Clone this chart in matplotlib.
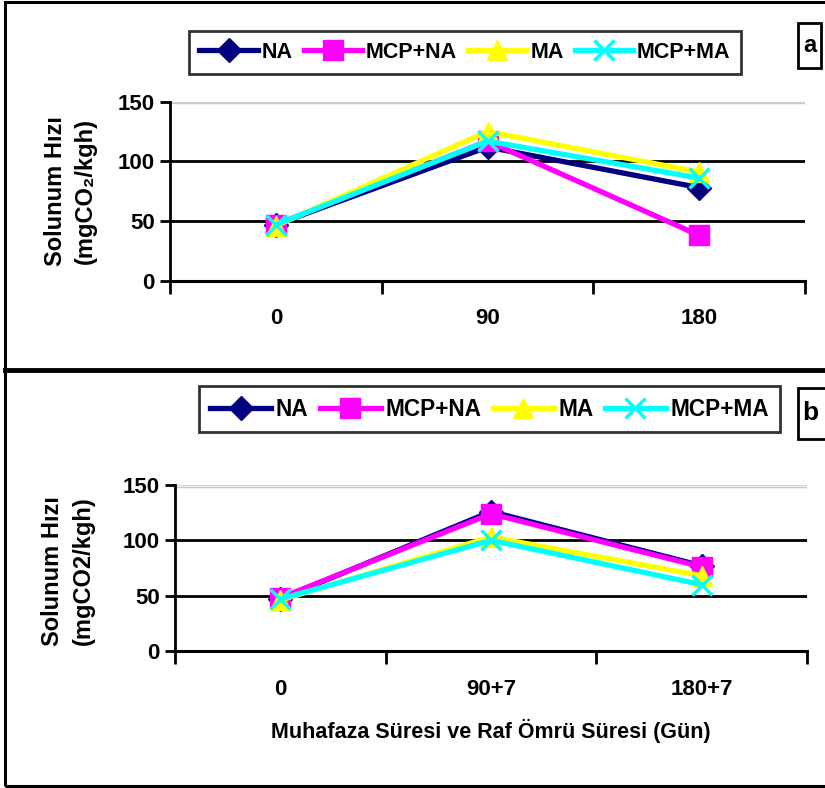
import matplotlib
matplotlib.use("Agg")
import matplotlib.pyplot as plt
from matplotlib.lines import Line2D
from matplotlib.patches import Rectangle

plt.rcParams['font.family'] = ['Liberation Sans', 'DejaVu Sans']
plt.rcParams['font.weight'] = 'bold'

# series names and colours
series = ['NA', 'MCP+NA', 'MA', 'MCP+MA']
colors = ['#000080', '#FF00FF', '#FFFF00', '#00FFFF']
markers = ['D', 's', '^', 'x']
msizes = [12, 14.5, 15, 15]

# panel a: storage time (days)
labels_a = ['0', '90', '180']
na_a = [47, 112, 78]
mcp_na_a = [47, 117, 38]
ma_a = [46, 125, 91]
mcp_ma_a = [47, 117, 86]

# panel b: storage + shelf life (days)
labels_b = ['0', '90+7', '180+7']
na_b = [47, 126, 77]
mcp_na_b = [48, 124, 76]
ma_b = [46, 103, 68]
mcp_ma_b = [47, 100, 60]

W, H = 825, 788
fig = plt.figure(figsize=(W / 100, H / 100), dpi=100)


def fx(px):
    return px / W


def fy(py):
    return 1 - py / H


def panel(rect, labels, data):
    ax = fig.add_axes(rect)
    pos = [0.5, 1.5, 2.5]
    for vals, c, m, ms, name in zip(data, colors, markers, msizes, series):
        ax.plot(pos, vals, color=c, lw=3.8, marker=m, markersize=ms,
                markeredgewidth=2.5 if m == 'x' else 1, markeredgecolor=c,
                label=name, clip_on=False, zorder=3)
    ax.set_xlim(0, 3)
    ax.set_ylim(0, 150)
    ax.set_yticks([0, 50, 100, 150])
    ax.set_xticks([0, 1, 2, 3])
    ax.set_xticklabels([])
    ax.set_xticks(pos, minor=True)
    ax.set_xticklabels(labels, minor=True)
    ax.tick_params(axis='x', which='minor', length=0, pad=20, labelsize=16)
    ax.tick_params(axis='x', which='major', length=9, width=2, direction='out')
    ax.tick_params(axis='y', length=7, width=2, labelsize=16, pad=4)
    for t in ax.get_yticklabels() + ax.get_xticklabels(minor=True):
        t.set_fontweight('bold')
    for v in [50, 100]:
        ax.axhline(v, color='black', lw=2, zorder=1)
    ax.axhline(150, color='#c8c8c8', lw=1.2, zorder=1)
    ax.axhline(148.5, color='#c8c8c8', lw=1.0, zorder=1)
    for s in ['top', 'right']:
        ax.spines[s].set_visible(False)
    ax.spines['left'].set_linewidth(2)
    ax.spines['bottom'].set_linewidth(2.2)
    return ax


ax_a = panel([fx(170), fy(280.7), fx(805 - 170), (280.7 - 101.7) / H],
             labels_a, [na_a, mcp_na_a, ma_a, mcp_ma_a])
ax_b = panel([fx(175), fy(651), fx(807 - 175), (651 - 485) / H],
             labels_b, [na_b, mcp_na_b, ma_b, mcp_ma_b])

# y axis titles
ylab_kw = dict(rotation=90, ha='center', va='center', fontsize=17, fontweight='bold')
fig.text(fx(56), fy(191), 'Solunum Hızı', **ylab_kw)
fig.text(fx(85), fy(191), '(mgCO₂/kgh)', **ylab_kw)
fig.text(fx(53), fy(571), 'Solunum Hızı', **ylab_kw)
fig.text(fx(83), fy(571), '(mgCO2/kgh)', **ylab_kw)

# x axis title of the lower panel
fig.text(fx(491), fy(731), 'Muhafaza Süresi ve Raf Ömrü Süresi (Gün)',
         ha='center', va='center', fontsize=15.5, fontweight='bold')

# legends
for ax, x0, x1, y0, y1, fs in [(ax_a, 188, 742, 32, 73, 15.5),
                               (ax_b, 203, 776, 387, 431, 16.3)]:
    leg = fig.legend(*ax.get_legend_handles_labels(), ncol=4,
                     loc='center', bbox_to_anchor=(fx((x0 + x1) / 2), fy((y0 + y1) / 2)),
                     frameon=True, fancybox=False, edgecolor='black',
                     handlelength=2.7, columnspacing=0.5, handletextpad=0.2,
                     borderpad=0.5, borderaxespad=0,
                     prop={'size': fs, 'weight': 'bold'})
    leg.get_frame().set_linewidth(2)

# panel letters in their own boxes
for letter, x0, x1, y0, y1, fs in [('a', 798, 821, 23, 68, 17), ('b', 798, 830, 388, 439, 19)]:
    fig.add_artist(Rectangle((fx(x0), fy(y1)), fx(x1 - x0), (y1 - y0) / H,
                             transform=fig.transFigure, fc='white', ec='black', lw=2))
    fig.text(fx((x0 + min(x1, 823)) / 2), fy((y0 + y1) / 2), letter, ha='center',
             va='center', fontsize=fs, fontweight='bold')

# outer frame and divider
fig.add_artist(Rectangle((fx(5), fy(786)), fx(830 - 5), (786 - 2) / H,
                         transform=fig.transFigure, fill=False, ec='black', lw=2.2))
fig.add_artist(Line2D([fx(5), 1], [fy(370), fy(370)], transform=fig.transFigure,
                      color='black', lw=3.5))

fig.savefig('out.png', dpi=100)
